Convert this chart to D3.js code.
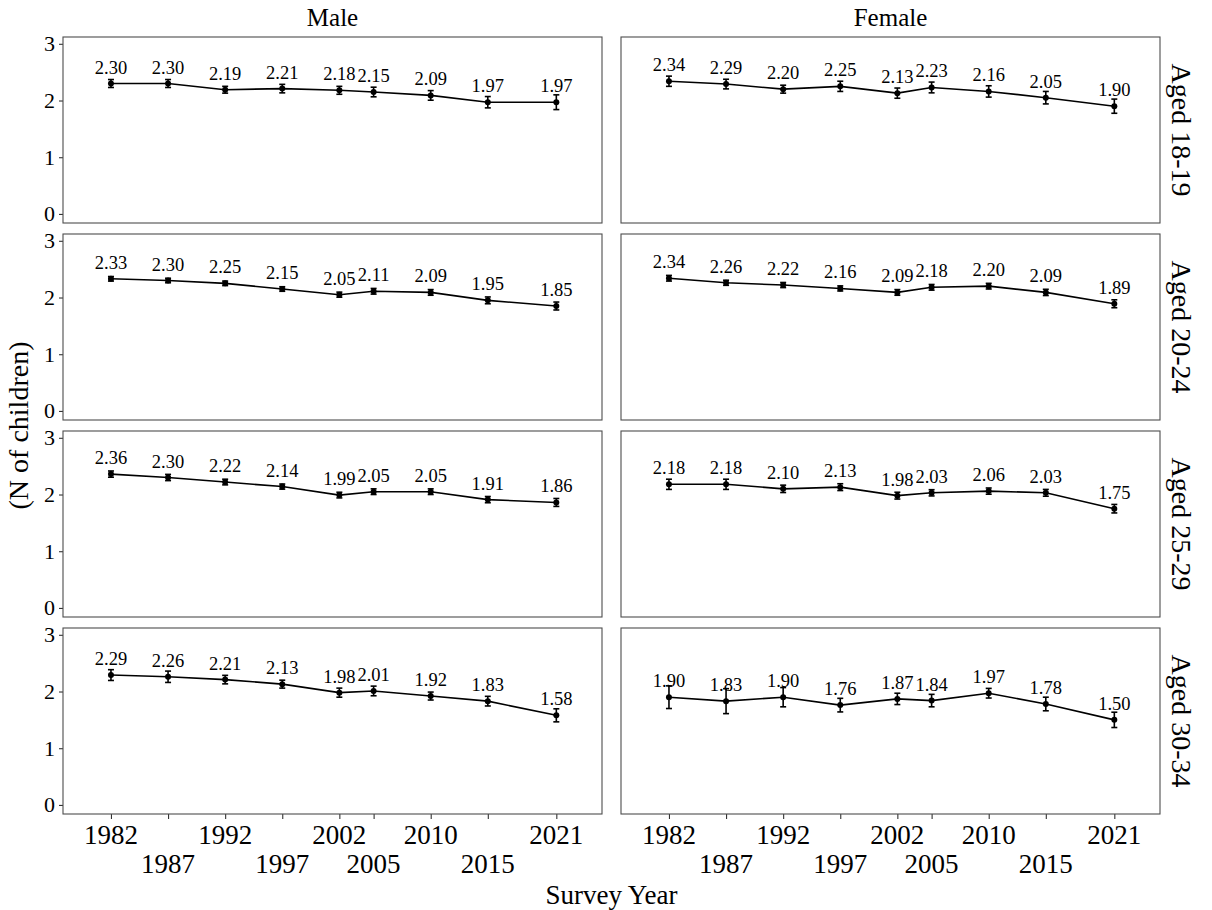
<!DOCTYPE html>
<html>
<head>
<meta charset="utf-8">
<script src="https://cdn.jsdelivr.net/npm/d3@7"></script>
<style>
  html, body { margin: 0; padding: 0; background: #fff; }
  svg { display: block; }
  text { font-family: "Liberation Serif", "Times New Roman", serif; fill: #000; }
</style>
</head>
<body>
<svg id="chart" width="1212" height="910"></svg>
<script>
// Survey years (x axis)
const years = [1982, 1987, 1992, 1997, 2002, 2005, 2010, 2015, 2021];
// Facet labels
const sexes = ["Male", "Female"];
const ageGroups = ["Aged 18-19", "Aged 20-24", "Aged 25-29", "Aged 30-34"];
const yTicks = [0, 1, 2, 3];
// Tick labels staggered over two lines
const xTickRow1 = [1982, 1992, 2002, 2010, 2021];
const xTickRow2 = [1987, 1997, 2005, 2015];

// Mean number of children, one array per facet
const male_18_19 = [2.30, 2.30, 2.19, 2.21, 2.18, 2.15, 2.09, 1.97, 1.97];
const male_20_24 = [2.33, 2.30, 2.25, 2.15, 2.05, 2.11, 2.09, 1.95, 1.85];
const male_25_29 = [2.36, 2.30, 2.22, 2.14, 1.99, 2.05, 2.05, 1.91, 1.86];
const male_30_34 = [2.29, 2.26, 2.21, 2.13, 1.98, 2.01, 1.92, 1.83, 1.58];
const female_18_19 = [2.34, 2.29, 2.20, 2.25, 2.13, 2.23, 2.16, 2.05, 1.90];
const female_20_24 = [2.34, 2.26, 2.22, 2.16, 2.09, 2.18, 2.20, 2.09, 1.89];
const female_25_29 = [2.18, 2.18, 2.10, 2.13, 1.98, 2.03, 2.06, 2.03, 1.75];
const female_30_34 = [1.90, 1.83, 1.90, 1.76, 1.87, 1.84, 1.97, 1.78, 1.50];

// Half-width of the error bars (confidence interval), per facet
const male_18_19_ci = [0.07, 0.07, 0.06, 0.075, 0.07, 0.085, 0.085, 0.10, 0.13];
const male_20_24_ci = [0.04, 0.04, 0.04, 0.04, 0.045, 0.05, 0.05, 0.06, 0.07];
const male_25_29_ci = [0.055, 0.055, 0.05, 0.045, 0.05, 0.05, 0.05, 0.055, 0.07];
const male_30_34_ci = [0.095, 0.10, 0.075, 0.07, 0.08, 0.085, 0.07, 0.085, 0.115];
const female_18_19_ci = [0.09, 0.085, 0.07, 0.09, 0.09, 0.095, 0.10, 0.11, 0.125];
const female_20_24_ci = [0.05, 0.045, 0.045, 0.045, 0.05, 0.05, 0.05, 0.055, 0.07];
const female_25_29_ci = [0.09, 0.09, 0.065, 0.06, 0.06, 0.055, 0.055, 0.06, 0.075];
const female_30_34_ci = [0.20, 0.22, 0.17, 0.12, 0.10, 0.11, 0.085, 0.12, 0.135];

const means = {
  Male: [male_18_19, male_20_24, male_25_29, male_30_34],
  Female: [female_18_19, female_20_24, female_25_29, female_30_34]
};
const cis = {
  Male: [male_18_19_ci, male_20_24_ci, male_25_29_ci, male_30_34_ci],
  Female: [female_18_19_ci, female_20_24_ci, female_25_29_ci, female_30_34_ci]
};

// Layout
const panelLeft = [63, 621];
const panelW = 539;
const panelTop = [37, 234, 431, 628];
const panelH = 186;
const borderColor = "#4d4d4d";
const tickColor = "#333333";

const svg = d3.select("#chart");

const x = d3.scaleLinear().domain([1977.8, 2025.0]).range([0, panelW]);
const y = d3.scaleLinear().domain([-0.16, 3.12]).range([panelH, 0]);

const line = d3.line().x(d => x(d.year)).y(d => y(d.value));

sexes.forEach((sex, ci) => {
  // Column strip on top
  svg.append("text")
    .attr("x", panelLeft[ci] + panelW / 2)
    .attr("y", 26)
    .attr("text-anchor", "middle")
    .attr("font-size", 25)
    .text(sex);

  ageGroups.forEach((age, ri) => {
    const g = svg.append("g")
      .attr("transform", `translate(${panelLeft[ci]},${panelTop[ri]})`);

    const rows = years.map((yr, i) => ({
      year: yr,
      value: means[sex][ri][i],
      ci: cis[sex][ri][i]
    }));

    // Y axis only on the left column
    if (ci === 0) {
      const ya = g.append("g")
        .call(d3.axisLeft(y).tickValues(yTicks).tickFormat(d3.format("d")).tickSize(4).tickPadding(4));
      ya.select(".domain").remove();
      ya.selectAll(".tick line").attr("stroke", tickColor).attr("stroke-width", 1.1);
      ya.selectAll(".tick text")
        .attr("font-size", 22)
        .attr("font-family", "Liberation Serif, serif")
        .attr("fill", "#000");
    }

    // X axis only in the bottom row
    if (ri === ageGroups.length - 1) {
      const xa = g.append("g")
        .attr("transform", `translate(0,${panelH})`)
        .call(d3.axisBottom(x).tickValues(years).tickFormat("").tickSize(5));
      xa.select(".domain").remove();
      xa.selectAll(".tick line").attr("stroke", tickColor).attr("stroke-width", 1.1);

      g.selectAll(".xl1").data(xTickRow1).join("text")
        .attr("x", d => x(d))
        .attr("y", panelH + 30)
        .attr("text-anchor", "middle")
        .attr("font-size", 27)
        .text(d => d);
      g.selectAll(".xl2").data(xTickRow2).join("text")
        .attr("x", d => x(d))
        .attr("y", panelH + 59)
        .attr("text-anchor", "middle")
        .attr("font-size", 27)
        .text(d => d);
    }

    // Error bars
    const eb = g.append("g").attr("stroke", "#000").attr("stroke-width", 1.6);
    rows.forEach(d => {
      eb.append("line")
        .attr("x1", x(d.year)).attr("x2", x(d.year))
        .attr("y1", y(d.value - d.ci)).attr("y2", y(d.value + d.ci));
      [d.value - d.ci, d.value + d.ci].forEach(v => {
        eb.append("line")
          .attr("x1", x(d.year) - 3).attr("x2", x(d.year) + 3)
          .attr("y1", y(v)).attr("y2", y(v));
      });
    });

    // Trend line
    g.append("path")
      .datum(rows)
      .attr("d", line)
      .attr("fill", "none")
      .attr("stroke", "#000")
      .attr("stroke-width", 1.6);

    // Points
    g.selectAll(".pt").data(rows).join("circle")
      .attr("cx", d => x(d.year))
      .attr("cy", d => y(d.value))
      .attr("r", 3)
      .attr("fill", "#000");

    // Value labels
    g.selectAll(".lbl").data(rows).join("text")
      .attr("x", d => x(d.year))
      .attr("y", d => y(d.value) - 10)
      .attr("text-anchor", "middle")
      .attr("font-size", 18.5)
      .text(d => d.value.toFixed(2));

    // Panel border
    g.append("rect")
      .attr("x", 0).attr("y", 0)
      .attr("width", panelW).attr("height", panelH)
      .attr("fill", "none")
      .attr("stroke", borderColor)
      .attr("stroke-width", 1.1);

    // Row strip on the right
    if (ci === sexes.length - 1) {
      const cx = panelW + 22;
      const cy = panelH / 2;
      g.append("text")
        .attr("transform", `translate(${cx},${cy}) rotate(90)`)
        .attr("text-anchor", "middle")
        .attr("dy", "0.35em")
        .attr("font-size", 28)
        .text(age);
    }
  });
});

// Axis titles
svg.append("text")
  .attr("transform", `translate(18,${(panelTop[0] + panelTop[3] + panelH) / 2}) rotate(-90)`)
  .attr("text-anchor", "middle")
  .attr("dy", "0.35em")
  .attr("font-size", 28)
  .text("(N of children)");

svg.append("text")
  .attr("x", (panelLeft[0] + panelLeft[1] + panelW) / 2)
  .attr("y", 904)
  .attr("text-anchor", "middle")
  .attr("font-size", 27)
  .text("Survey Year");
</script>
</body>
</html>
